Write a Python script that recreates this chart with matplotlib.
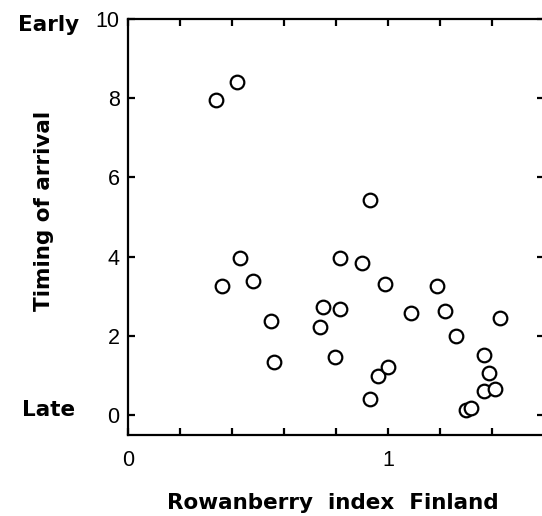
import numpy as np
import matplotlib.pyplot as plt

# rowanberry index (x) and timing of arrival (y)
rowan = [0.34, 0.42, 0.36, 0.43, 0.48, 0.55, 0.56, 0.75, 0.74, 0.815,
         0.815, 0.795, 0.93, 0.90, 0.99, 0.96, 1.00, 0.93, 1.09, 1.19,
         1.22, 1.26, 1.43, 1.37, 1.39, 1.37, 1.41, 1.30, 1.32]
arrival = [7.95, 8.41, 3.26, 3.96, 3.38, 2.37, 1.34, 2.73, 2.22, 3.96,
           2.68, 1.46, 5.43, 3.84, 3.31, 0.98, 1.21, 0.40, 2.58, 3.26,
           2.63, 1.99, 2.45, 1.52, 1.06, 0.60, 0.66, 0.13, 0.18]

xticks = [0, 0.2, 0.4, 0.6, 0.8, 1.0, 1.2, 1.4, 1.6]
xticklabels = ["0", "", "", "", "", "1", "", "", ""]
yticks = [0, 2, 4, 6, 8, 10]

plt.rcParams["font.family"] = ["Liberation Sans", "DejaVu Sans"]

fig = plt.figure(figsize=(5.42, 5.16), dpi=100)
ax = fig.add_axes([128 / 542, 81 / 516, 416 / 542, 416 / 516])

ax.plot(rowan, arrival, "o", ms=9.8, mfc="white", mec="black", mew=1.6,
        linestyle="none")

ax.set_xlim(0, 1.6)
ax.set_ylim(-0.5, 10)
ax.set_xticks(xticks)
ax.set_xticklabels(xticklabels, family="Liberation Sans")
ax.set_yticks(yticks)
ax.set_yticklabels([str(v) for v in yticks], family="Liberation Sans")
ax.tick_params(direction="in", length=5, width=1.6, labelsize=15.5,
               top=True, right=True)
ax.tick_params(axis="x", pad=11)
ax.tick_params(axis="y", pad=6)
for s in ax.spines.values():
    s.set_linewidth(1.6)

bold = dict(family="DejaVu Sans", fontsize=15.5, fontweight="bold")
fig.text(333 / 542, 1 - 509 / 516, "Rowanberry  index  Finland",
         ha="center", va="baseline", **bold)
fig.text(44 / 542, 1 - 211 / 516, "Timing of arrival", rotation=90,
         ha="center", va="center", **bold)
fig.text(49 / 542, 1 - 31 / 516, "Early", ha="center", va="baseline", **bold)
fig.text(49 / 542, 1 - 416 / 516, "Late", ha="center", va="baseline", **bold)

fig.savefig("out.png", dpi=100)
